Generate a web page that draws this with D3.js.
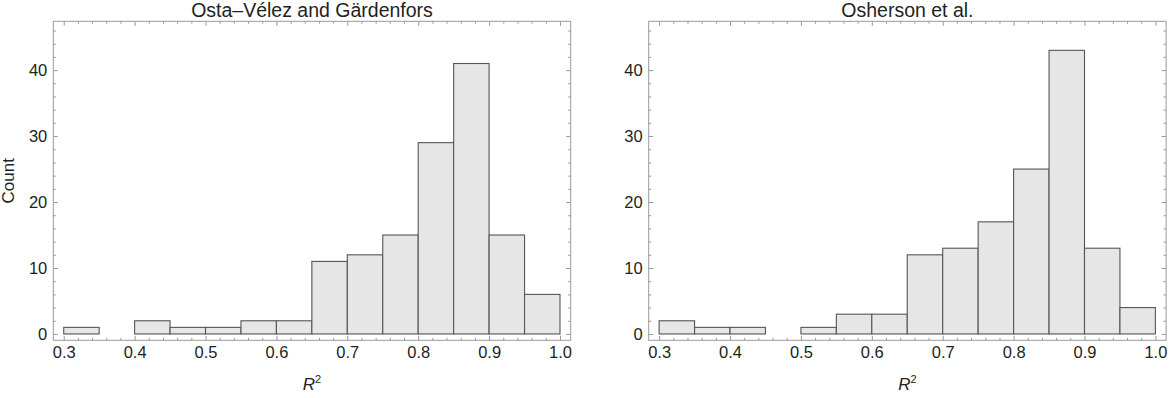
<!DOCTYPE html>
<html>
<head>
<meta charset="utf-8">
<script src="https://cdn.jsdelivr.net/npm/d3@7"></script>
<style>
  body { margin: 0; background: #fff; }
  text { font-family: "Liberation Sans", Arial, sans-serif; fill: #231f20; }
</style>
</head>
<body>
<div id="chart"></div>
<script>
// bins of R^2, width 0.05
const binStarts = [0.30, 0.35, 0.40, 0.45, 0.50, 0.55, 0.60, 0.65, 0.70, 0.75, 0.80, 0.85, 0.90, 0.95];
const binWidth = 0.05;

// counts
const ostaCounts     = [1, 0, 2, 1, 1, 2, 2, 11, 12, 15, 29, 41, 15, 6];
const oshersonCounts = [2, 1, 1, 0, 1, 3, 3, 12, 13, 17, 25, 43, 13, 4];

const panelTitles = ["Osta\u2013V\u00e9lez and G\u00e4rdenfors", "Osherson et al."];
const xTickValues = [0.3, 0.4, 0.5, 0.6, 0.7, 0.8, 0.9, 1.0];
const yTickValues = [0, 10, 20, 30, 40];

// constants
const width = 1170, height = 398;
const frameW = 517.4;
const frameTop = 21.3, frameBottom = 340.3;
const panelLefts = [53.3, 648.7];

const svg = d3.select("#chart")
    .append("svg")
    .attr("width", width)
    .attr("height", height)

const yScale = d3.scaleLinear()
    .domain([-0.96, 47.4])      // plot range with padding like the original
    .range([frameBottom, frameTop])

const xMinor = d3.range(0.30, 1.001, 0.02).filter(v => !xTickValues.some(t => Math.abs(t - v) < 1e-6))
const yMinor = d3.range(2, 47, 2).filter(v => v % 10 !== 0)

function drawPanel(left, counts, title) {
    const xScale = d3.scaleLinear()
        .domain([0.2853, 1.0151])
        .range([left, left + frameW])

    const g = svg.append("g")

    const data = binStarts.map((b, i) => ({x0: b, x1: b + binWidth, count: counts[i]}))
        .filter(d => d.count > 0)

    // bars
    g.selectAll("rect.bar")
        .data(data)
        .join("rect")
        .attr("class", "bar")
        .attr("x", d => xScale(d.x0))
        .attr("width", d => xScale(d.x1) - xScale(d.x0))
        .attr("y", d => yScale(d.count))
        .attr("height", d => yScale(0) - yScale(d.count))
        .attr("fill", "#e6e6e6")
        .attr("stroke", "#555")
        .attr("stroke-width", 1.1)

    // frame axes, ticks pointing inward
    const axisStyle = sel => {
        sel.select(".domain").remove()
        sel.selectAll("line").attr("stroke", "#999")
        sel.selectAll("text")
            .style("font-size", "16.5px")
            .attr("fill", "#231f20")
    }

    const addAxis = (axisFn, pos, transform, major, minor, labels) => {
        g.append("g")
            .attr("transform", transform)
            .call(axisFn(pos).tickValues(minor).tickSize(-2.5).tickFormat(""))
            .call(axisStyle)
        g.append("g")
            .attr("transform", transform)
            .call(axisFn(pos).tickValues(major).tickSize(-4.5).tickPadding(labels ? 6 : 0)
                .tickFormat(labels ? labels : ""))
            .call(axisStyle)
    }

    addAxis(d3.axisBottom, xScale, `translate(0,${frameBottom})`, xTickValues, xMinor, d3.format(".1f"))
    addAxis(d3.axisTop, xScale, `translate(0,${frameTop})`, xTickValues, xMinor, null)
    addAxis(d3.axisLeft, yScale, `translate(${left},0)`, yTickValues, yMinor, d3.format("d"))
    addAxis(d3.axisRight, yScale, `translate(${left + frameW},0)`, yTickValues, yMinor, null)

    // frame
    g.append("rect")
        .attr("x", left)
        .attr("y", frameTop)
        .attr("width", frameW)
        .attr("height", frameBottom - frameTop)
        .attr("fill", "none")
        .attr("stroke", "#9a9a9a")
        .attr("stroke-width", 1)

    // title
    g.append("text")
        .attr("x", left + frameW / 2)
        .attr("y", 16.5)
        .attr("text-anchor", "middle")
        .style("font-size", "19.5px")
        .text(title)

    // x label R^2
    const xl = g.append("text")
        .attr("x", left + frameW / 2)
        .attr("y", 390)
        .attr("text-anchor", "middle")
        .style("font-size", "17px")
    xl.append("tspan").style("font-style", "italic").text("R")
    xl.append("tspan").attr("dy", "-7").style("font-size", "11px").text("2")
}

drawPanel(panelLefts[0], ostaCounts, panelTitles[0])
drawPanel(panelLefts[1], oshersonCounts, panelTitles[1])

// y label, only on the left
svg.append("text")
    .attr("transform", `translate(14, ${(frameTop + frameBottom) / 2}) rotate(-90)`)
    .attr("text-anchor", "middle")
    .style("font-size", "17px")
    .text("Count")
</script>
</body>
</html>
